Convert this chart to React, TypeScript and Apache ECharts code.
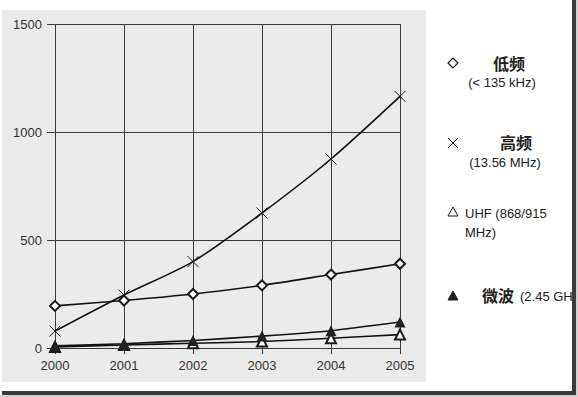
import React, { useEffect, useRef } from "react";
import * as echarts from "echarts";

const years = ["2000", "2001", "2002", "2003", "2004", "2005"];
const lowFreq = [195, 220, 250, 290, 340, 390];
const highFreq = [78, 245, 400, 625, 875, 1165];
const uhf = [5, 14, 22, 30, 45, 62];
const microwave = [10, 20, 35, 55, 80, 120];

const legendLow = ["低频", "(< 135 kHz)"];
const legendHigh = ["高频", "(13.56 MHz)"];
const legendUhf = ["UHF (868/915", "MHz)"];
const legendMw = ["微波", "(2.45 GHz)"];

const LATIN = "'Liberation Sans', Arial, sans-serif";
const CJK = "'Noto Sans CJK SC', sans-serif";

export default function App() {
  const ref = useRef<HTMLDivElement>(null);
  useEffect(() => {
    if (!ref.current) return;
    const chart = echarts.init(ref.current, undefined, { renderer: "svg" });
    const lineStyle = { color: "#111", width: 1.6 };
    const xPath = "path://M0,0L10,10M10,0L0,10";
    const ink = "#1a1a1a";
    chart.setOption({
      animation: false,
      backgroundColor: "transparent",
      grid: { left: 55, top: 24, width: 345, bottom: 49 },
      xAxis: {
        type: "category",
        data: years,
        boundaryGap: false,
        axisLine: { show: false },
        axisTick: { show: true, length: 6, lineStyle: { color: "#3a3a3a" } },
        axisLabel: { color: "#333", fontFamily: LATIN, fontSize: 13, margin: 11 },
        splitLine: { show: true, lineStyle: { color: "#3a3a3a", width: 1 } },
      },
      yAxis: {
        type: "value",
        min: 0,
        max: 1500,
        interval: 500,
        axisLine: { show: false },
        axisTick: { show: true, length: 8, lineStyle: { color: "#3a3a3a" } },
        axisLabel: { color: "#333", fontFamily: LATIN, fontSize: 13, margin: 13, formatter: (v: number) => String(v) },
        splitLine: { show: true, lineStyle: { color: "#3a3a3a", width: 1 } },
      },
      series: [
        {
          name: "低频",
          type: "line",
          data: lowFreq,
          smooth: 0.25,
          symbol: "emptyDiamond",
          symbolSize: 10,
          lineStyle,
          itemStyle: { color: ink, borderColor: ink, borderWidth: 1 },
        },
        {
          name: "高频",
          type: "line",
          data: highFreq,
          smooth: 0.25,
          symbol: xPath,
          symbolSize: 11,
          lineStyle,
          itemStyle: { color: "none", borderColor: ink, borderWidth: 1 },
        },
        {
          name: "UHF",
          type: "line",
          data: uhf,
          smooth: 0.2,
          symbol: "emptyTriangle",
          symbolSize: 10,
          lineStyle,
          itemStyle: { color: ink, borderColor: ink, borderWidth: 1 },
        },
        {
          name: "微波",
          type: "line",
          data: microwave,
          smooth: 0.2,
          symbol: "triangle",
          symbolSize: 11,
          lineStyle,
          itemStyle: { color: "#222" },
        },
      ],
      graphic: [
        { type: "polygon", shape: { points: [[453, 58], [458, 63], [453, 68], [448, 63]] }, style: { fill: "none", stroke: ink, lineWidth: 1.2 } },
        { type: "text", x: 509, y: 63, style: { text: legendLow[0], font: `bold 16px ${CJK}`, fill: "#222", align: "center", verticalAlign: "middle" } },
        { type: "text", x: 502, y: 82, style: { text: legendLow[1], font: `13px ${LATIN}`, fill: "#222", align: "center", verticalAlign: "middle" } },
        { type: "line", shape: { x1: 448, y1: 138, x2: 458, y2: 148 }, style: { stroke: ink, lineWidth: 1 } },
        { type: "line", shape: { x1: 458, y1: 138, x2: 448, y2: 148 }, style: { stroke: ink, lineWidth: 1 } },
        { type: "text", x: 516, y: 142, style: { text: legendHigh[0], font: `bold 16px ${CJK}`, fill: "#222", align: "center", verticalAlign: "middle" } },
        { type: "text", x: 505, y: 162, style: { text: legendHigh[1], font: `13px ${LATIN}`, fill: "#222", align: "center", verticalAlign: "middle" } },
        { type: "polygon", shape: { points: [[453, 207], [458, 216], [448, 216]] }, style: { fill: "none", stroke: ink, lineWidth: 1 } },
        { type: "text", x: 465, y: 213, style: { text: legendUhf[0], font: `13px ${LATIN}`, fill: "#222", align: "left", verticalAlign: "middle" } },
        { type: "text", x: 465, y: 232, style: { text: legendUhf[1], font: `13px ${LATIN}`, fill: "#222", align: "left", verticalAlign: "middle" } },
        { type: "polygon", shape: { points: [[453, 291], [458, 300], [448, 300]] }, style: { fill: "#222", stroke: "#222", lineWidth: 1 } },
        { type: "text", x: 482, y: 295, style: { text: legendMw[0], font: `bold 16px ${CJK}`, fill: "#222", align: "left", verticalAlign: "middle" } },
        { type: "text", x: 520, y: 296, style: { text: legendMw[1], font: `13px ${LATIN}`, fill: "#222", align: "left", verticalAlign: "middle" } },
      ],
    });
    return () => chart.dispose();
  }, []);

  return (
    <div style={{ position: "fixed", left: 0, top: 0, width: 578, height: 397, background: "#ffffff", overflow: "hidden" }}>
      <div style={{ position: "absolute", left: 2, top: 10, width: 424, height: 372, background: "#ebebeb" }} />
      <div ref={ref} style={{ position: "absolute", left: 0, top: 0, width: 572, height: 397 }} />
      <div style={{ position: "absolute", left: 572, top: 0, width: 4, height: 395, background: "#3a3a3a" }} />
      <div style={{ position: "absolute", left: 2, top: 391, width: 574, height: 4, background: "#3a3a3a" }} />
      <div style={{ position: "absolute", left: 576, top: 0, width: 2, height: 397, background: "#cfcfcf" }} />
      <div style={{ position: "absolute", left: 0, top: 395, width: 578, height: 2, background: "#cfcfcf" }} />
    </div>
  );
}
